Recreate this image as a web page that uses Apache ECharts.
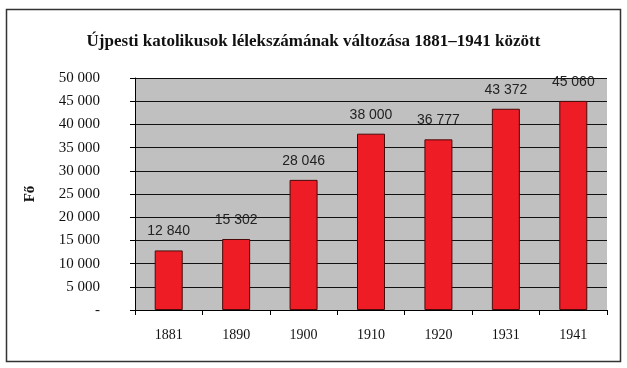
<!DOCTYPE html>
<html>
<head>
<meta charset="utf-8">
<script src="https://cdn.jsdelivr.net/npm/echarts@6/dist/echarts.min.js"></script>
<style>html,body{margin:0;padding:0;background:#fff}#c{width:627px;height:368px}</style>
</head>
<body>
<div id="c"></div>
<script>
const categories = ['1881', '1890', '1900', '1910', '1920', '1931', '1941'];
const values = [12840, 15302, 28046, 38000, 36777, 43372, 45060];
const yTicks = [0, 5000, 10000, 15000, 20000, 25000, 30000, 35000, 40000, 45000, 50000];

function fmt(v) {
  if (v === 0) return '-';
  const s = String(Math.round(v));
  return s.replace(/\B(?=(\d{3})+(?!\d))/g, ' ');
}

const chart = echarts.init(document.getElementById('c'), null, {renderer: 'canvas'});
chart.setOption({
  animation: false,
  title: {
    text: 'Újpesti katolikusok lélekszámának változása 1881–1941 között',
    left: 'center', top: 28,
    textStyle: {fontFamily: 'Liberation Serif', fontWeight: 'bold', fontSize: 17, color: '#111'}
  },
  graphic: [{
    type: 'rect', shape: {x: 6.5, y: 9.5, width: 614, height: 352},
    style: {fill: 'none', stroke: '#333', lineWidth: 1.5}, z: -1
  }],
  grid: {left: 135, right: 20, top: 78, bottom: 58, show: true, backgroundColor: '#c0c0c0', borderWidth: 0},
  xAxis: {
    type: 'category', data: categories,
    axisLine: {lineStyle: {color: '#000', width: 1}},
    axisTick: {show: true, alignWithLabel: false, length: 5, lineStyle: {color: '#000'}},
    axisLabel: {fontFamily: 'Liberation Serif', fontSize: 14, color: '#111', margin: 18}
  },
  yAxis: {
    type: 'value', min: 0, max: 50000, interval: 5000,
    name: 'Fő', nameLocation: 'middle', nameRotate: 90, nameGap: 97,
    nameTextStyle: {fontFamily: 'Liberation Serif', fontWeight: 'bold', fontSize: 15, color: '#111'},
    axisLine: {show: true, lineStyle: {color: '#000', width: 1}},
    axisTick: {show: true, length: 5, lineStyle: {color: '#000'}},
    splitLine: {show: true, lineStyle: {color: '#111', width: 1}},
    axisLabel: {fontFamily: 'Liberation Serif', fontSize: 15, color: '#111', margin: 35,
      align: 'right', formatter: v => yTicks.includes(v) ? fmt(v) : ''}
  },
  series: [{
    type: 'bar', data: values, barWidth: 28,
    itemStyle: {color: '#ee1c24', borderColor: '#4a0a0a', borderWidth: 1},
    label: {show: true, position: 'top', distance: 12, formatter: p => fmt(p.value),
      fontFamily: 'Liberation Sans', fontSize: 14, color: '#222'}
  }]
});
</script>
</body>
</html>
